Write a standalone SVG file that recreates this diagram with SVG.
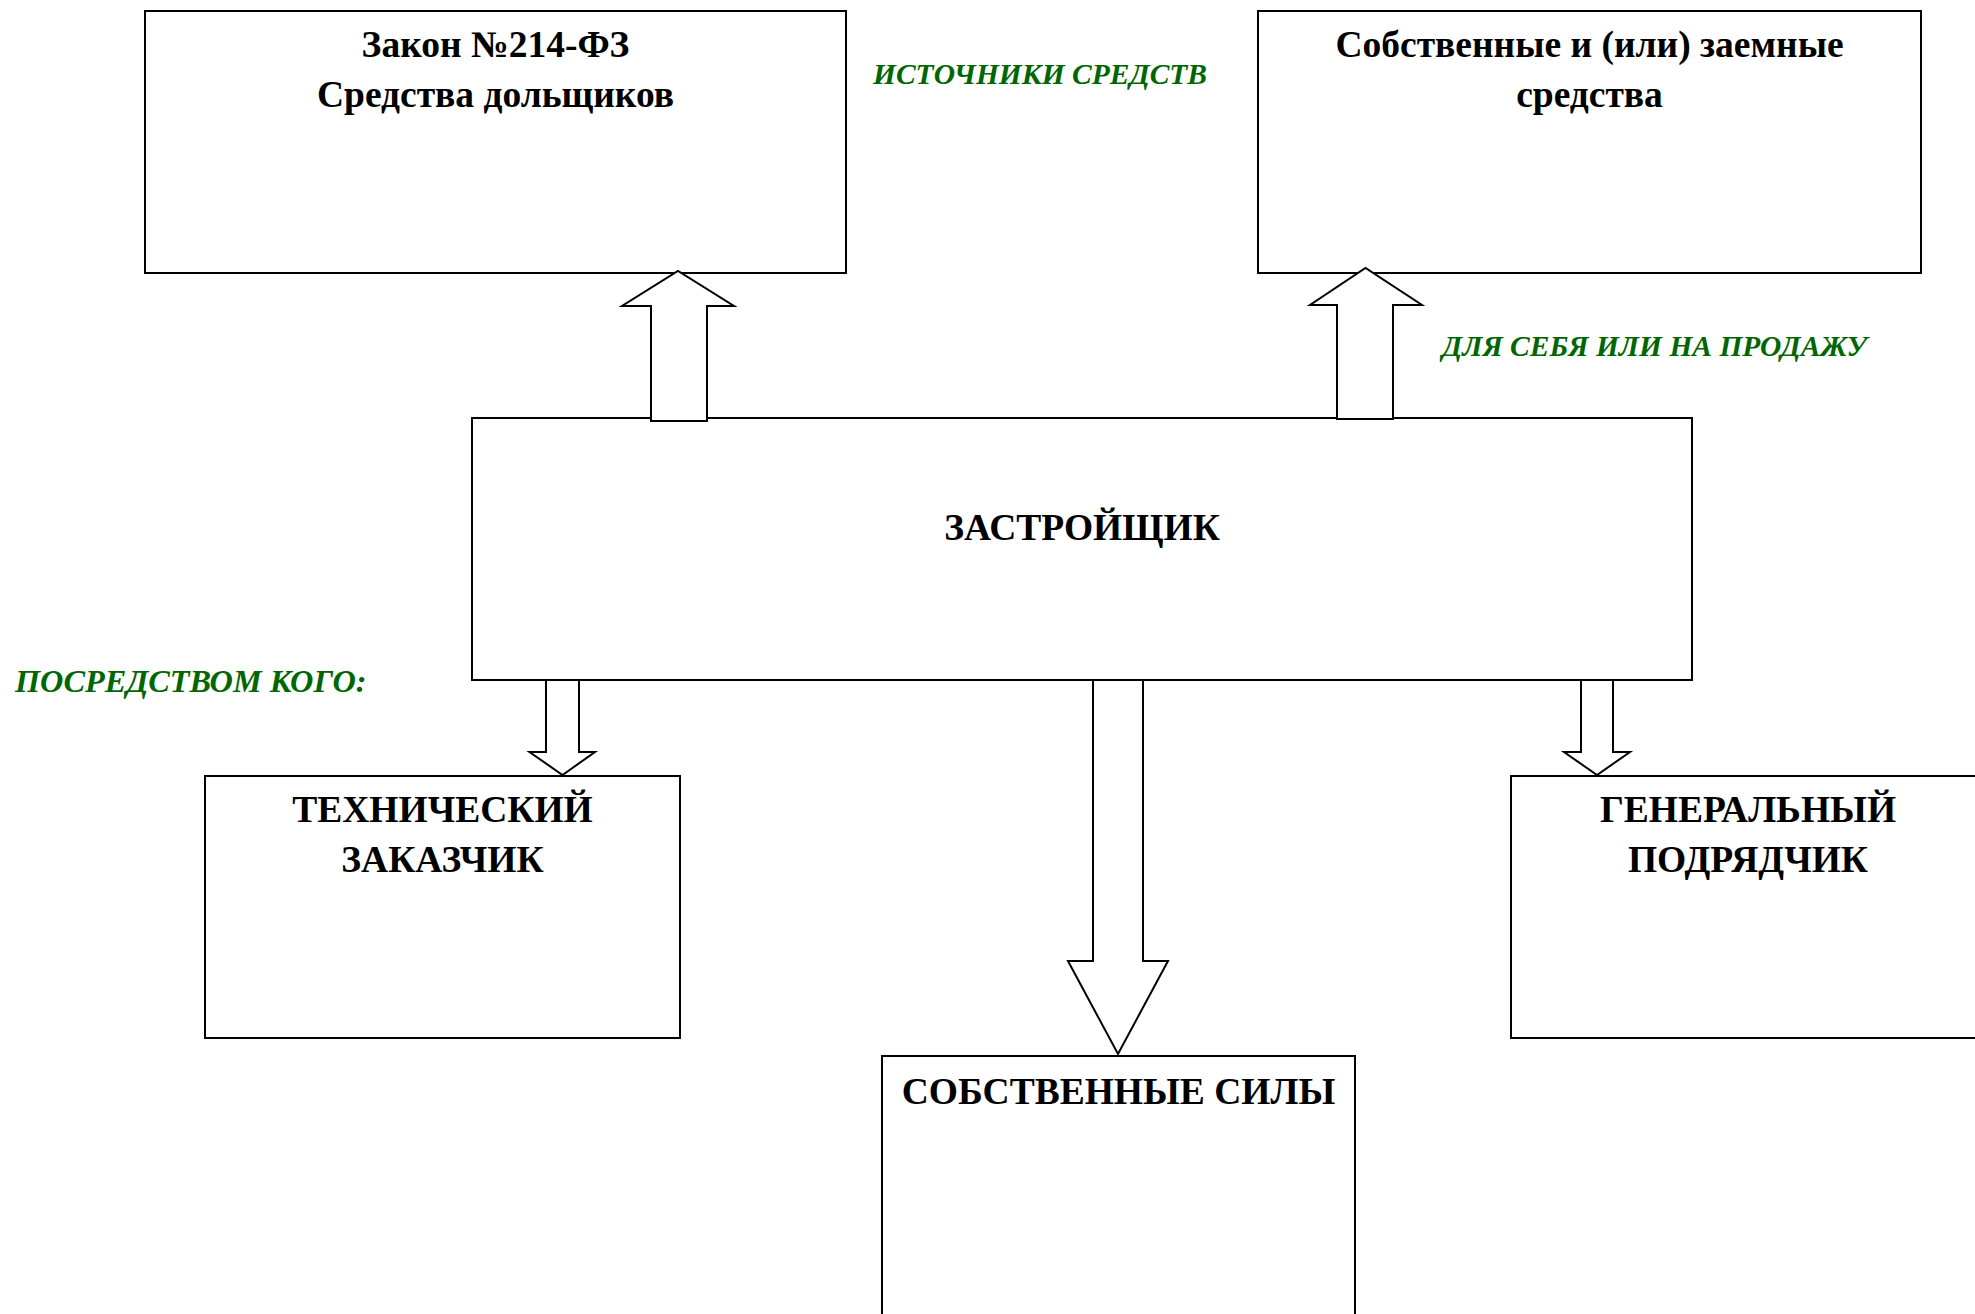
<svg xmlns="http://www.w3.org/2000/svg" width="1975" height="1314" viewBox="0 0 1975 1314">
<style>
.box{fill:#fff;stroke:#000;stroke-width:2}
.arr{fill:#fff;stroke:#000;stroke-width:2;stroke-linejoin:miter}
.t{font-family:"Liberation Serif","Times New Roman",serif;font-weight:bold;font-size:37.5px;fill:#000;text-anchor:middle}
.g{font-family:"Liberation Serif","Times New Roman",serif;font-weight:bold;font-style:italic;font-size:29.5px;fill:#006600}
</style>
<rect width="1975" height="1314" fill="#fff"/>
<g id="node-law">
<rect class="box" x="145" y="11" width="701" height="262"/>
<text class="t" x="495.5" y="57">Закон №214-ФЗ</text>
<text class="t" x="495.5" y="107">Средства дольщиков</text>
</g>
<g id="node-own-funds">
<rect class="box" x="1258" y="11" width="663" height="262"/>
<text class="t" x="1589.5" y="57">Собственные и (или) заемные</text>
<text class="t" x="1589.5" y="107">средства</text>
</g>
<g id="node-developer">
<rect class="box" x="472" y="418" width="1220" height="262"/>
<text class="t" x="1082" y="540">ЗАСТРОЙЩИК</text>
</g>
<g id="node-tech">
<rect class="box" x="205" y="776" width="475" height="262"/>
<text class="t" x="442.5" y="822">ТЕХНИЧЕСКИЙ</text>
<text class="t" x="442.5" y="872">ЗАКАЗЧИК</text>
</g>
<g id="node-general">
<rect class="box" x="1511" y="776" width="474" height="262"/>
<text class="t" x="1748" y="822">ГЕНЕРАЛЬНЫЙ</text>
<text class="t" x="1748" y="872">ПОДРЯДЧИК</text>
</g>
<g id="node-own-forces">
<rect class="box" x="882" y="1056" width="473" height="270"/>
<text class="t" x="1118.5" y="1104">СОБСТВЕННЫЕ СИЛЫ</text>
</g>
<g id="labels">
<text class="g" x="873" y="84">ИСТОЧНИКИ СРЕДСТВ</text>
<text class="g" x="1442" y="356">ДЛЯ СЕБЯ ИЛИ НА ПРОДАЖУ</text>
<text class="g" x="15" y="692" style="font-size:32.3px">ПОСРЕДСТВОМ КОГО:</text>
</g>
<g id="connectors">
<polygon class="arr" points="651,421 651,306 622,306 678,271 734,306 707,306 707,421"/>
<polygon class="arr" points="1337,419 1337,305 1310,305 1365.5,268 1422,305 1393,305 1393,419"/>
<polygon class="arr" points="546,680 546,752 529.5,752 562.5,775 595,752 579,752 579,680"/>
<polygon class="arr" points="1093,680 1093,961 1068,961 1118,1054 1168,961 1143,961 1143,680"/>
<polygon class="arr" points="1581,680 1581,752 1564,752 1597,775 1630,752 1613,752 1613,680"/>
</g>
</svg>
